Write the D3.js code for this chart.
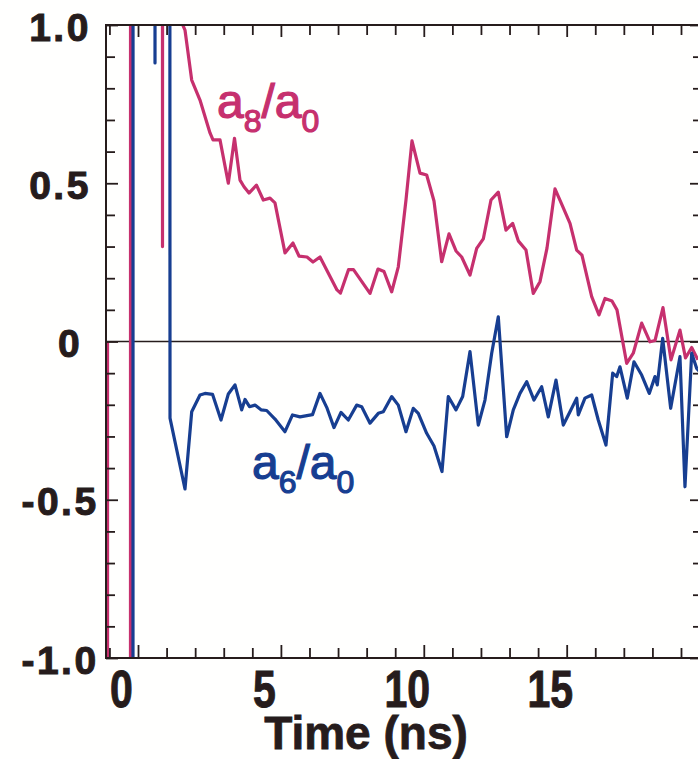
<!DOCTYPE html>
<html><head><meta charset="utf-8">
<script src="https://cdn.jsdelivr.net/npm/d3@7"></script>
<style>html,body{margin:0;padding:0;background:#fff;overflow:hidden}</style>
</head><body>
<svg id="chart" width="698" height="759"></svg>
<script>
// ---- data ----
const xTickValues = d3.range(-1, 20);          // minor ticks every 1 ns
const xMajorTicks = [0, 5, 10, 15];
const xTickLabels = ["0", "5", "10", "15"];
const yTickValues = d3.range(-10, 11).map(d => d / 10);
const yMajorTicks = [-1, -0.5, 0, 0.5, 1];
const yTickLabels = ["-1.0", "-0.5", "0", "0.5", "1.0"];
const xTitle = "Time (ns)";

// a8/a0 : [time (ns), ratio]
const pinkSeries = [
  [-1.067, 0.0], [-1.032, -30], [-0.280, -30], [-0.245, 30], [0.805, 30], [0.857, 0.30], [0.927, 30],
  [1.42, 30], [1.47, 1.02], [1.644, 0.984], [1.879, 0.826], [2.169, 0.763], [2.519, 0.659], [2.624, 0.637],
  [2.869, 0.637], [3.160, 0.500], [3.376, 0.642], [3.569, 0.510], [3.709, 0.489], [3.884, 0.469],
  [4.146, 0.494], [4.384, 0.447], [4.619, 0.453], [4.793, 0.438], [5.143, 0.280], [5.423, 0.311],
  [5.633, 0.270], [5.913, 0.267], [6.123, 0.251], [6.368, 0.267], [6.963, 0.163], [7.085, 0.153],
  [7.365, 0.227], [7.540, 0.227], [8.118, 0.152], [8.397, 0.229], [8.607, 0.221], [8.877, 0.157],
  [9.108, 0.236], [9.377, 0.447], [9.587, 0.634], [9.867, 0.532], [10.101, 0.526], [10.357, 0.444],
  [10.626, 0.252], [10.882, 0.340], [11.127, 0.286], [11.326, 0.267], [11.617, 0.210], [11.851, 0.294],
  [12.082, 0.324], [12.351, 0.447], [12.607, 0.472], [12.876, 0.352], [13.111, 0.373], [13.306, 0.318],
  [13.576, 0.289], [13.831, 0.152], [14.066, 0.189], [14.311, 0.295], [14.591, 0.482], [14.825, 0.434],
  [15.116, 0.373], [15.350, 0.289], [15.535, 0.273], [15.875, 0.142], [16.130, 0.084], [16.340, 0.136],
  [16.585, 0.128], [16.760, 0.100], [17.099, -0.069], [17.330, -0.037], [17.624, 0.058], [17.915, -0.001],
  [18.090, 0.003], [18.370, 0.107], [18.650, -0.058], [18.964, 0.036], [19.157, -0.052], [19.374, -0.019],
  [19.594, -0.058]
];

// a6/a0 : [time (ns), ratio]
const blueSeries = [
  [-0.192, -30], [-0.157, 30], [0.542, 30], [0.595, 0.880], [0.647, 30], [1.015, 30], [1.120, -0.242],
  [1.644, -0.466], [1.879, -0.222], [2.169, -0.169], [2.344, -0.164], [2.607, -0.167], [2.904, -0.248],
  [3.160, -0.166], [3.394, -0.137], [3.628, -0.216], [3.744, -0.183], [3.901, -0.206], [4.094, -0.201],
  [4.304, -0.216], [4.503, -0.218], [4.794, -0.245], [5.143, -0.285], [5.406, -0.232], [5.668, -0.238],
  [6.106, -0.231], [6.368, -0.164], [6.603, -0.208], [6.858, -0.272], [7.103, -0.224], [7.358, -0.248],
  [7.652, -0.201], [7.827, -0.206], [8.118, -0.258], [8.408, -0.227], [8.583, -0.222], [8.877, -0.174],
  [9.108, -0.201], [9.377, -0.285], [9.633, -0.211], [9.808, -0.227], [10.101, -0.290], [10.357, -0.330],
  [10.637, -0.411], [10.857, -0.174], [11.127, -0.216], [11.361, -0.174], [11.617, -0.032], [11.907, -0.264],
  [12.141, -0.185], [12.376, -0.037], [12.607, 0.078], [12.901, -0.301], [13.132, -0.216], [13.366, -0.164],
  [13.600, -0.127], [13.856, -0.185], [14.125, -0.143], [14.356, -0.238], [14.626, -0.122], [14.881, -0.264],
  [15.115, -0.222], [15.350, -0.179], [15.406, -0.232], [15.640, -0.179], [15.875, -0.169], [16.105, -0.248],
  [16.375, -0.327], [16.610, -0.100], [16.749, -0.111], [16.865, -0.080], [17.120, -0.179], [17.355, -0.064],
  [17.624, -0.106], [17.890, -0.164], [18.090, -0.111], [18.170, -0.137], [18.359, 0.010], [18.639, -0.211],
  [18.964, -0.048], [19.139, -0.459], [19.374, -0.037], [19.549, -0.085], [19.664, -0.096]
];

// ---- layout ----
const svg = d3.select("#chart");
const INK = "#261c1c";
const PINK = "#c6306e";
const BLUE = "#173e91";
const L = 106, R = 699, T = 25, B = 658;

const x = d3.scaleLinear().domain([-1.12, 19.63]).range([L, R]);
const y = d3.scaleLinear().domain([-1, 1]).range([B, T]);

svg.append("rect").attr("width", 698).attr("height", 759).attr("fill", "#fffffe");

svg.append("defs").append("clipPath").attr("id", "plotclip")
  .append("rect").attr("x", L).attr("y", T).attr("width", R - L).attr("height", B - T);

const isMajX = d => xMajorTicks.includes(d);
const isMajY = d => yMajorTicks.some(m => Math.abs(m - d) < 1e-9);

// zero line
svg.append("line")
  .attr("x1", L).attr("x2", R).attr("y1", y(0)).attr("y2", y(0))
  .attr("stroke", INK).attr("stroke-width", 1.4);

// series
const line = d3.line().x(d => x(d[0])).y(d => y(d[1]));
const plot = svg.append("g").attr("clip-path", "url(#plotclip)");
plot.append("path").datum(pinkSeries).attr("d", line)
  .attr("fill", "none").attr("stroke", PINK).attr("stroke-width", 3.2).attr("stroke-linejoin", "round");
plot.append("path").datum(blueSeries).attr("d", line)
  .attr("fill", "none").attr("stroke", BLUE).attr("stroke-width", 3.2).attr("stroke-linejoin", "round");

// axes
function styleAxis(g) {
  g.select(".domain").remove();
  g.selectAll(".tick line").attr("stroke", INK).attr("stroke-width", 1.8);
}

const gBottom = svg.append("g").attr("transform", `translate(0,${B})`)
  .call(d3.axisBottom(x).tickValues(xTickValues).tickSizeOuter(0).tickSizeInner(-10)
    .tickFormat(d => isMajX(d) ? xTickLabels[xMajorTicks.indexOf(d)] : ""));
styleAxis(gBottom);
gBottom.selectAll(".tick line").attr("y2", d => isMajX(d) ? -13 : -10);
gBottom.selectAll(".tick text")
  .attr("y", 0).attr("dy", null)
  .attr("transform", "translate(-17,49) scale(1,1.26)")
  .attr("fill", INK).attr("stroke", INK).attr("stroke-width", 0.8)
  .style("font-family", "'Liberation Sans', Arial, sans-serif")
  .style("font-weight", "bold").style("font-size", "41px").attr("text-anchor", "middle");

const gTop = svg.append("g").attr("transform", `translate(0,${T})`)
  .call(d3.axisTop(x).tickValues(xTickValues).tickSizeOuter(0).tickSizeInner(-10).tickFormat(""));
styleAxis(gTop);
gTop.selectAll(".tick line").attr("y2", d => isMajX(d) ? 12 : 10);

const gLeft = svg.append("g").attr("transform", `translate(${L},0)`)
  .call(d3.axisLeft(y).tickValues(yTickValues).tickSizeOuter(0).tickSizeInner(-9)
    .tickFormat(d => isMajY(d) ? yTickLabels[yMajorTicks.findIndex(m => Math.abs(m - d) < 1e-9)] : ""));
styleAxis(gLeft);
gLeft.selectAll(".tick line").attr("x2", d => isMajY(d) ? 12 : 9);
gLeft.selectAll(".tick text")
  .attr("x", d => Math.abs(d) < 1e-9 ? -36 : -46).attr("y", 15).attr("dy", null)
  .attr("text-anchor", "middle")
  .attr("fill", INK).attr("stroke", INK).attr("stroke-width", 1)
  .style("letter-spacing", "2.5px")
  .style("font-family", "'Liberation Sans', Arial, sans-serif")
  .style("font-weight", "bold").style("font-size", "39px");

const gRight = svg.append("g").attr("transform", `translate(${R},0)`)
  .call(d3.axisRight(y).tickValues(yTickValues).tickSizeOuter(0).tickSizeInner(-6).tickFormat(""));
styleAxis(gRight);
gRight.selectAll(".tick line").attr("x2", d => isMajY(d) ? -9 : -6);

// frame
svg.append("rect").attr("x", L).attr("y", T).attr("width", R - L).attr("height", B - T)
  .attr("fill", "none").attr("stroke", INK).attr("stroke-width", 2);

// axis title
svg.append("text").attr("x", 366).attr("y", 749).attr("text-anchor", "middle")
  .attr("fill", INK).attr("stroke", INK).attr("stroke-width", 0.8)
  .style("font-family", "'Liberation Sans', Arial, sans-serif")
  .style("font-weight", "bold").style("font-size", "46px").text(xTitle);

// inline series labels
function seriesLabel(xp, yp, color, sub1) {
  const t = svg.append("text").attr("x", xp).attr("y", yp).attr("fill", color)
    .attr("stroke", color).attr("stroke-width", 1.2)
    .style("font-family", "'Liberation Sans', Arial, sans-serif").style("font-size", "48px");
  t.append("tspan").text("a");
  t.append("tspan").attr("dy", 14).style("font-size", "32px").text(sub1);
  t.append("tspan").attr("dy", -14).text("/a");
  t.append("tspan").attr("dy", 14).style("font-size", "32px").text("0");
}
seriesLabel(217, 118, PINK, "8");
seriesLabel(252, 479, BLUE, "6");
</script>
</body></html>
